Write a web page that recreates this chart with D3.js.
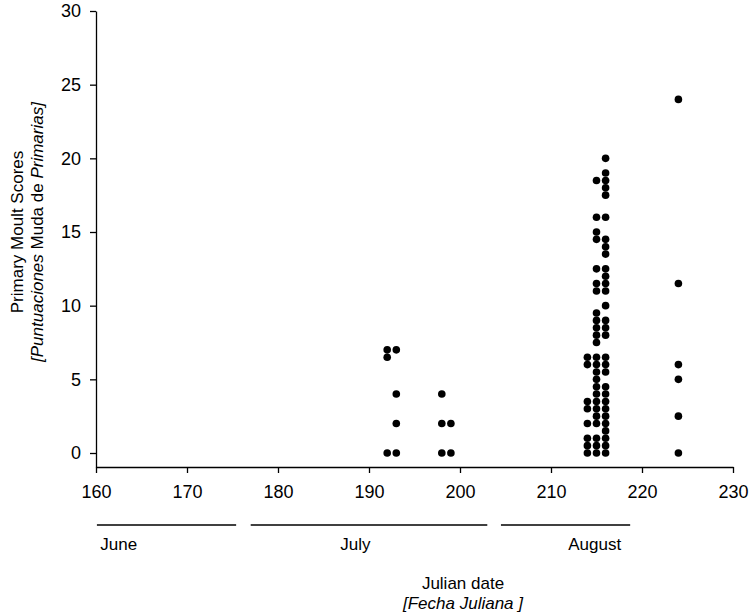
<!DOCTYPE html>
<html>
<head>
<meta charset="utf-8">
<script src="https://cdn.jsdelivr.net/npm/d3@7/dist/d3.min.js"></script>
<style>
  html, body { margin: 0; padding: 0; background: #fff; }
  svg { display: block; font-family: "Liberation Sans", Arial, sans-serif; }
</style>
</head>
<body>
<svg id="chart" width="750" height="616"></svg>
<script>
// ---- data ----
const days = [192, 193, 198, 199, 214, 215, 216, 224];
const scores = [
  [0, 6.5, 7],
  [0, 2, 4, 7],
  [0, 2, 4],
  [0, 2],
  [0, 0.5, 1, 2, 3, 3.5, 6, 6.5],
  [0, 0.5, 1, 2, 2.5, 3, 3.5, 4, 4.5, 5, 5.5, 6, 6.5, 7.5, 8, 8.5, 9, 9.5, 11, 11.5, 12.5, 14.5, 15, 16, 18.5],
  [0, 0.5, 1, 1.5, 2, 2.5, 3, 3.5, 4, 4.5, 5.5, 6, 6.5, 8, 8.5, 9, 10, 11, 11.5, 12, 12.5, 13.5, 14, 14.5, 16, 17.5, 18, 18.5, 19, 20],
  [0, 2.5, 5, 6, 11.5, 24]
];
const xTicks = [160, 170, 180, 190, 200, 210, 220, 230];
const yTicks = [0, 5, 10, 15, 20, 25, 30];
const months = ["June", "July", "August"];
const monthStart = [160.1, 177.0, 204.5];
const monthEnd = [175.4, 203.0, 218.7];
const monthLabelAt = [162.5, 188.5, 214.8];

const points = [];
days.forEach((d, i) => scores[i].forEach(s => points.push({day: d, score: s})));

// ---- chart ----
const svg = d3.select("#chart");
const x = d3.scaleLinear().domain([160, 230]).range([96, 733]);
const y = d3.scaleLinear().domain([-0.95, 30]).range([467, 11]);

const font = "Liberation Sans, Arial, sans-serif";

const xAxis = svg.append("g")
  .attr("transform", `translate(0,${y(-0.95)})`)
  .call(d3.axisBottom(x).tickValues(xTicks).tickSize(6).tickSizeOuter(0).tickPadding(12).tickFormat(d3.format("d")));
const yAxis = svg.append("g")
  .attr("transform", `translate(${x(160)},0)`)
  .call(d3.axisLeft(y).tickValues(yTicks).tickSize(6).tickSizeOuter(0).tickPadding(9).tickFormat(d3.format("d")));

[xAxis, yAxis].forEach(g => {
  g.selectAll("path.domain").attr("stroke", "#000").attr("stroke-width", 1.3);
  g.selectAll(".tick line").attr("stroke", "#000").attr("stroke-width", 1.3);
  g.selectAll(".tick text").attr("fill", "#000").style("font-size", "18px").style("font-family", font);
});

// points
svg.append("g").selectAll("circle").data(points).join("circle")
  .attr("cx", d => x(d.day))
  .attr("cy", d => y(d.score))
  .attr("r", 3.8)
  .attr("fill", "#000");

// month bars
const mg = svg.append("g");
months.forEach((m, i) => {
  mg.append("line")
    .attr("x1", x(monthStart[i])).attr("x2", x(monthEnd[i]))
    .attr("y1", 525).attr("y2", 525)
    .attr("stroke", "#000").attr("stroke-width", 1.3);
  mg.append("text")
    .attr("x", x(monthLabelAt[i])).attr("y", 550)
    .attr("text-anchor", "middle")
    .style("font-size", "17px").style("font-family", font)
    .text(m);
});

// axis titles
const xt = svg.append("text").attr("text-anchor", "middle")
  .style("font-size", "17px").style("font-family", font);
xt.append("tspan").attr("x", 463).attr("y", 589).text("Julian date");
xt.append("tspan").attr("x", 463).attr("y", 609).style("font-style", "italic").text("[Fecha Juliana ]");

const yt = svg.append("text").attr("text-anchor", "middle")
  .attr("transform", "translate(0,232) rotate(-90)")
  .style("font-size", "17px").style("font-family", font);
yt.append("tspan").attr("x", 0).attr("y", 23).text("Primary Moult Scores");
const t2 = yt.append("tspan").attr("x", 0).attr("y", 43);
t2.append("tspan").style("font-style", "italic").text("[Puntuaciones ");
t2.append("tspan").text("Muda de ");
t2.append("tspan").style("font-style", "italic").text("Primarias]");
</script>
</body>
</html>
